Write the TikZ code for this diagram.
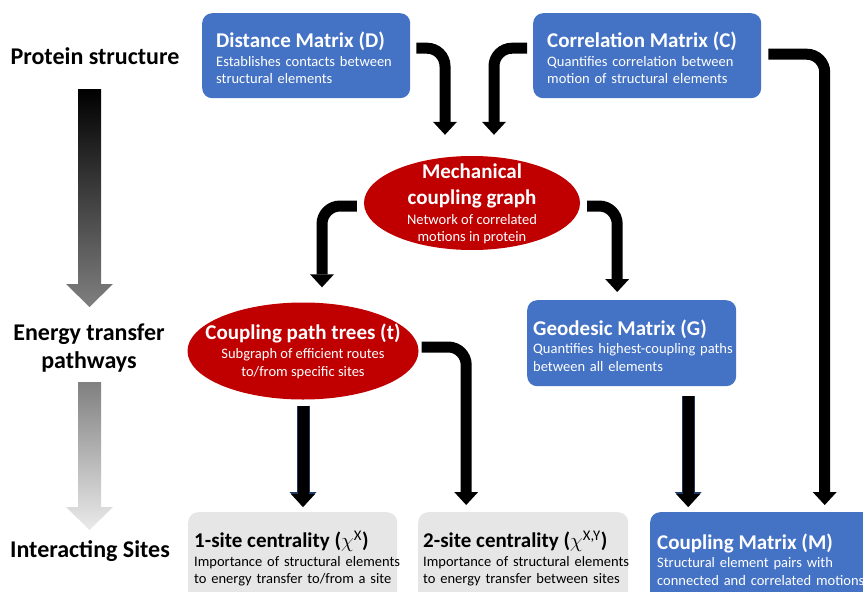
\documentclass[tikz,border=0pt]{standalone}
\usepackage{fontspec}
\setmainfont{Carlito}
\usetikzlibrary{arrows.meta,shapes.geometric}
\definecolor{boxblue}{HTML}{4472C4}
\definecolor{ellred}{HTML}{C00000}
\definecolor{boxgray}{HTML}{E7E6E6}
\definecolor{navyline}{HTML}{1F3864}
\newcommand{\ttl}[1]{\mbox{\fontsize{21}{25}\selectfont\bfseries\rule{0pt}{20pt}#1}\\[1pt]}
\newcommand{\etl}[1]{{\fontsize{21}{25}\selectfont\bfseries #1}}
\newcommand{\row}[1]{\mbox{#1}}
\newcommand{\bdy}{\fontsize{14.5}{17.5}\selectfont}
\tikzset{
    box/.style={rectangle, rounded corners=10pt, anchor=north west, align=left,
        inner xsep=14pt, inner ysep=0pt, font=\bdy},
    bluebox/.style={box, fill=boxblue, text=white},
    graybox/.style={box, fill=boxgray, text=black},
    redell/.style={ellipse, fill=ellred, inner sep=0pt},
    elltext/.style={align=center, text=white, font=\bdy},
    side/.style={font=\fontsize{24}{28}\selectfont\bfseries, align=center},
    conn/.style={draw=black, line width=11pt, rounded corners=18pt,
        -{Triangle[width=24pt,length=13pt,line width=0pt]}},
    framed/.style={preaction={draw=navyline, line width=13pt,
        -{Triangle[width=27pt,length=15pt,line width=0pt]}}}
}
\begin{document}
\begin{tikzpicture}[x=1pt,y=-1pt]
        \useasboundingbox (0,0) rectangle (863,592);
        \node (lprot) [side] at (95,56) {Protein structure};
        \node (lener) [side] at (89,348) {Energy transfer\\pathways};
        \node (lsites) [side] at (90,551) {Interacting Sites};
        \shade[top color=black, bottom color=black!50]
            (78,89) -- (101,89) -- (101,284) -- (113,284) -- (89.5,307) -- (66,284) -- (78,284) -- cycle;
        \shade[top color=black!50, bottom color=black!8]
            (78,382) -- (101,382) -- (101,507) -- (113,507) -- (89.5,530) -- (66,507) -- (78,507) -- cycle;
        \node (dist) [bluebox, text width=180pt, minimum height=85pt] at (202,13)
            {\ttl{Distance Matrix (D)}\row{Establishes contacts between}\\\row{structural elements}};
        \node (corr) [bluebox, text width=200pt, minimum height=85pt] at (533,13)
            {\ttl{Correlation Matrix (C)}\row{Quantifies correlation between}\\\row{motion of structural elements}};
        \node (mech) [redell, minimum width=216pt, minimum height=94pt] at (472,203) {};
        \node (mechtxt) [elltext] at (472,204)
            {\etl{Mechanical}\\[9pt]\etl{coupling graph}\\[2pt]Network of correlated\\motions in protein};
        \node (paths) [redell, minimum width=231pt, minimum height=97pt] at (303,351) {};
        \node (pathstxt) [elltext] at (303,351)
            {\etl{Coupling path trees (t)}\\[2pt]Subgraph of efficient routes\\to/from specific sites};
        \node (geo) [bluebox, inner xsep=6pt, text width=197pt, minimum height=86pt] at (527,300)
            {\ttl{Geodesic Matrix (G)}\row{Quantifies highest-coupling paths}\\\row{between all elements}};
        \node (site1) [graybox, inner xsep=6pt, text width=197pt, minimum height=90pt] at (188,512)
            {\ttl{1-site centrality ($\chi$\textsuperscript{\mdseries X})}\row{Importance of structural elements}\\\row{to energy transfer to/from a site}};
        \node (site2) [graybox, inner xsep=5pt, text width=200pt, minimum height=90pt] at (418,512)
            {\ttl{2-site centrality ($\chi$\textsuperscript{\mdseries X,Y})}\row{Importance of structural elements}\\\row{to energy transfer between sites}};
        \node (coup) [bluebox, inner xsep=7pt, text width=215pt, minimum height=90pt] at (650,512)
            {\ttl{Coupling Matrix (M)}\row{Structural element pairs with}\\\row{connected and correlated motions}};
        \draw[conn] ([xshift=6pt,yshift=7.5pt]dist.east) -| ([xshift=-27pt,yshift=21pt]mech.north);
        \draw[conn] ([xshift=-6pt,yshift=7.5pt]corr.west) -| ([xshift=22pt,yshift=21pt]mech.north);
        \draw[conn] ([xshift=7pt,yshift=1.5pt]corr.east) -| ([xshift=60pt,yshift=7pt]coup.north);
        \draw[conn] ([xshift=-7pt,yshift=-3pt]mech.west) -| ([xshift=19pt,yshift=15pt]paths.north);
        \draw[conn] ([xshift=7pt,yshift=-3pt]mech.east) -| ([xshift=-14.5pt,yshift=8pt]geo.north);
        \draw[conn] ([xshift=3pt,yshift=4pt]paths.east) -| ([xshift=-57pt,yshift=7pt]site2.north);
        \draw[conn, framed] ([yshift=-6pt]paths.south) -- ([yshift=5pt]paths.south |- site1.north);
        \draw[conn, framed] ([xshift=56.5pt,yshift=-10pt]geo.south) -- ([xshift=56.5pt,yshift=5pt]geo.south |- coup.north);
\end{tikzpicture}
\end{document}
